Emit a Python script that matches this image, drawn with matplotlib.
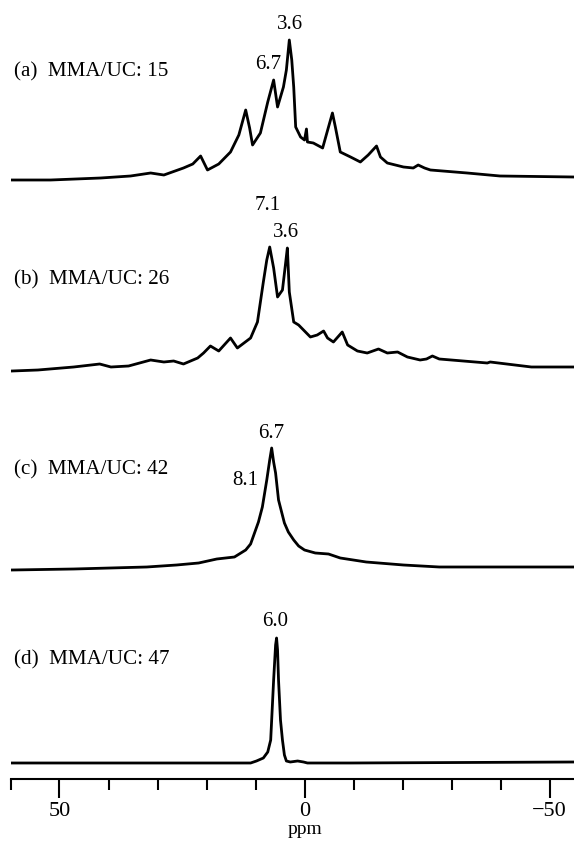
import numpy as np
import matplotlib
matplotlib.use("Agg")
import matplotlib.pyplot as plt
from matplotlib.ticker import MultipleLocator, FixedLocator

plt.rcParams['font.family'] = ['Liberation Serif', 'DejaVu Serif']

# spectra: chemical shift (ppm) and relative intensity
ppm_a = [59.9, 51.8, 41.6, 35.5, 31.4, 28.7, 24.7, 22.8, 21.2, 20.6, 19.8, 17.5, 15.1, 13.4,
         12.0, 11.2, 10.6, 9.0, 7.5, 6.3, 5.5, 4.3, 3.7, 3.1, 2.6, 2.2, 1.8, 0.8, 0.0, -0.4,
         -0.6, -1.8, -3.7, -4.9, -5.7, -6.3, -7.3, -9.4, -11.4, -13.0, -14.7, -15.5, -16.9,
         -20.2, -22.2, -23.2, -24.5, -25.7, -33.2, -39.9, -55.0]
int_a = [0, 0, 2, 4, 7, 5, 12, 16, 24, 18, 10, 16, 28, 45,
         70, 52, 35, 47, 78, 100, 73, 93, 110, 140, 120, 93, 53, 43, 40, 51,
         38, 37, 32, 53, 67, 53, 28, 23, 18, 25, 34, 23, 17,
         13, 12, 15, 12, 10, 7, 4, 3]

ppm_b = [59.7, 54.4, 47.1, 41.8, 39.5, 35.9, 31.4, 28.7, 26.7, 24.7, 21.8, 20.6, 19.2, 17.5,
         15.1, 13.7, 11.0, 9.6, 8.4, 7.7, 7.1, 6.3, 5.5, 4.5, 3.9, 3.5, 3.1, 2.2, 1.2, 0.2,
         -1.2, -2.6, -3.9, -4.7, -5.9, -7.7, -8.8, -10.8, -12.8, -15.1, -16.9, -19.0, -21.0,
         -23.6, -24.9, -26.1, -27.5, -37.3, -37.9, -46.3, -55.0]
int_b = [0, 1, 4, 7, 4, 5, 11, 9, 10, 7, 13, 18, 25, 20,
         33, 23, 33, 49, 89, 111, 124, 103, 74, 81, 106, 123, 79, 49, 46, 41,
         34, 36, 40, 33, 29, 39, 26, 20, 18, 22, 18, 19, 14,
         11, 12, 15, 12, 8, 9, 4, 4]

ppm_c = [59.7, 47.1, 32.2, 26.1, 21.6, 17.9, 14.3, 12.0, 11.0, 10.2, 9.4, 8.6, 7.7, 7.1,
         6.7, 6.3, 5.9, 5.3, 4.1, 3.3, 2.2, 1.2, 0.0, -2.2, -4.9, -7.3, -12.6, -20.2, -27.5,
         -42.4, -55.0]
int_c = [0, 1, 3, 5, 7, 11, 13, 20, 26, 37, 48, 63, 90, 110,
         122, 108, 97, 70, 47, 38, 30, 24, 20, 17, 16, 12, 8, 5, 3,
         3, 3]

ppm_d = [59.7, 39.5, 21.2, 11.0, 9.8, 8.4, 7.5, 6.9, 6.5, 6.3, 5.9, 5.7, 5.5, 5.3,
         4.9, 4.5, 4.1, 3.7, 2.9, 1.4, 0.2, -0.6, -9.4, -55.0]
int_d = [0, 0, 0, 0, 2, 5, 11, 23, 63, 83, 118, 125, 113, 83,
         43, 23, 8, 2, 1, 2, 1, 0, 0, 1]

labels = ['(a)  MMA/UC: 15', '(b)  MMA/UC: 26', '(c)  MMA/UC: 42', '(d)  MMA/UC: 47']
peak_text = [['3.6', '6.7'], ['7.1', '3.6'], ['6.7', '8.1'], ['6.0']]

# stacking offsets and label spots
offsets = [599, 408, 209, 16]
label_y = [707, 499, 309, 119]
peak_pos = [[(3.06, 755), (7.5, 715)],
            [(7.5, 574), (3.7, 547)],
            [(6.9, 346), (12.0, 299)],
            [(5.9, 157)]]

fig = plt.figure(figsize=(5.74, 8.42), dpi=100)
ax = fig.add_axes([10.5 / 574, 1 - 779 / 842, 1 - 10.5 / 574, 779 / 842])

spectra = [(ppm_a, int_a), (ppm_b, int_b), (ppm_c, int_c), (ppm_d, int_d)]
for i, (p, v) in enumerate(spectra):
    ax.plot(p, np.array(v) + offsets[i], color='black', lw=2.0, solid_joinstyle='round')
    ax.text(59.3, label_y[i], labels[i], fontsize=15.2, ha='left', va='center')
    for txt, (px, py) in zip(peak_text[i], peak_pos[i]):
        ax.text(px, py, txt, fontsize=15, ha='center', va='center')

ax.set_xlim(60, -55)
ax.set_ylim(0, 779)
for s in ['top', 'left', 'right']:
    ax.spines[s].set_visible(False)
ax.spines['bottom'].set_linewidth(1.5)
ax.set_yticks([])
ax.xaxis.set_major_locator(FixedLocator([50, 0, -50]))
ax.xaxis.set_minor_locator(MultipleLocator(10))
ax.tick_params(axis='x', which='major', direction='out', length=13.5, width=1.5,
               labelsize=16, pad=3)
ax.tick_params(axis='x', which='minor', direction='out', length=8, width=1.5)

# axis title sits just under the 0 label
fig.text(ax.get_position().x0 + ax.get_position().width * 60 / 115, 1 - 830 / 842, 'ppm',
         fontsize=14, ha='center', va='center')

fig.savefig('out.png', dpi=100)
